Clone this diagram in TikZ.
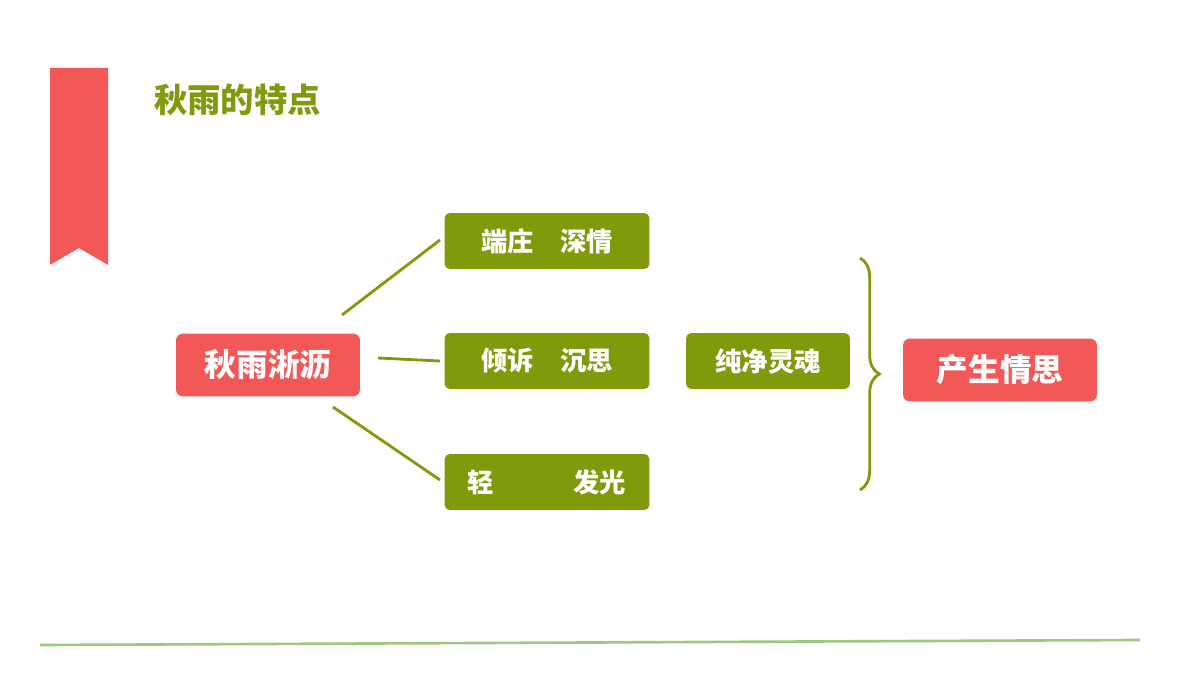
\documentclass[tikz,border=0pt]{standalone}
\usepackage{fontspec}
\setmainfont{Noto Sans CJK SC}
\usetikzlibrary{decorations.pathreplacing}
\definecolor{rainred}{HTML}{F25858}
\definecolor{leafgreen}{HTML}{7F9A0A}
\definecolor{lightgreen}{HTML}{9CC97C}
\tikzset{
  gbox/.style={fill=leafgreen, rounded corners=3pt, text=white, font=\fontsize{15}{15}\selectfont\bfseries, minimum width=4.1cm, minimum height=1.12cm, inner sep=0pt},
  rbox/.style={fill=rainred, rounded corners=4pt, text=white, font=\fontsize{18}{18}\selectfont\bfseries, inner sep=0pt},
  link/.style={draw=leafgreen, line width=1.6pt}
}
\begin{document}
\begin{tikzpicture}[x=0.02cm,y=-0.02cm]
  \useasboundingbox (0,0) rectangle (1200,675);

  % Ribbon and title
  \fill[rainred] (50,68) -- (108,68) -- (108,265) -- (79,248) -- (50,265) -- cycle;
  \node[text=leafgreen, font=\fontsize{19}{19}\selectfont\bfseries, anchor=west] (title) at (148,100) {秋雨的特点};

  % Left node and the three features
  \node[rbox, minimum width=3.68cm, minimum height=1.26cm] (rain) at (268,365) {秋雨淅沥};
  \node[gbox] (f1) at (547,241) {端庄\quad 深情};
  \node[gbox] (f2) at (547,361) {倾诉\quad 沉思};
  \node[gbox] (f3) at (547,482) {轻\qquad\quad 发光};

  \coordinate (a1) at (342,315);
  \coordinate (a2) at (378,358);
  \coordinate (a3) at (333,407);
  \coordinate (b1) at (440,240);
  \coordinate (b2) at (440,361);
  \coordinate (b3) at (440,480);
  \foreach \n in {1,2,3}
    \draw[link] (a\n) -- (b\n);

  % Soul and result
  \node[gbox, minimum width=3.28cm] (soul) at (768,361) {纯净灵魂};
  \coordinate (bt) at (860,258);
  \coordinate (bb) at (860,490);
  \draw[link, decorate, decoration={brace, amplitude=11pt}] (bt) -- (bb);
  \node[rbox, minimum width=3.88cm, minimum height=1.26cm] (feel) at (1000,370) {产生情思};

  % Bottom rule
  \coordinate (l1) at (40,645);
  \coordinate (l2) at (1140,640);
  \draw[lightgreen, line width=1.5pt] (l1) -- (l2);
\end{tikzpicture}
\end{document}
